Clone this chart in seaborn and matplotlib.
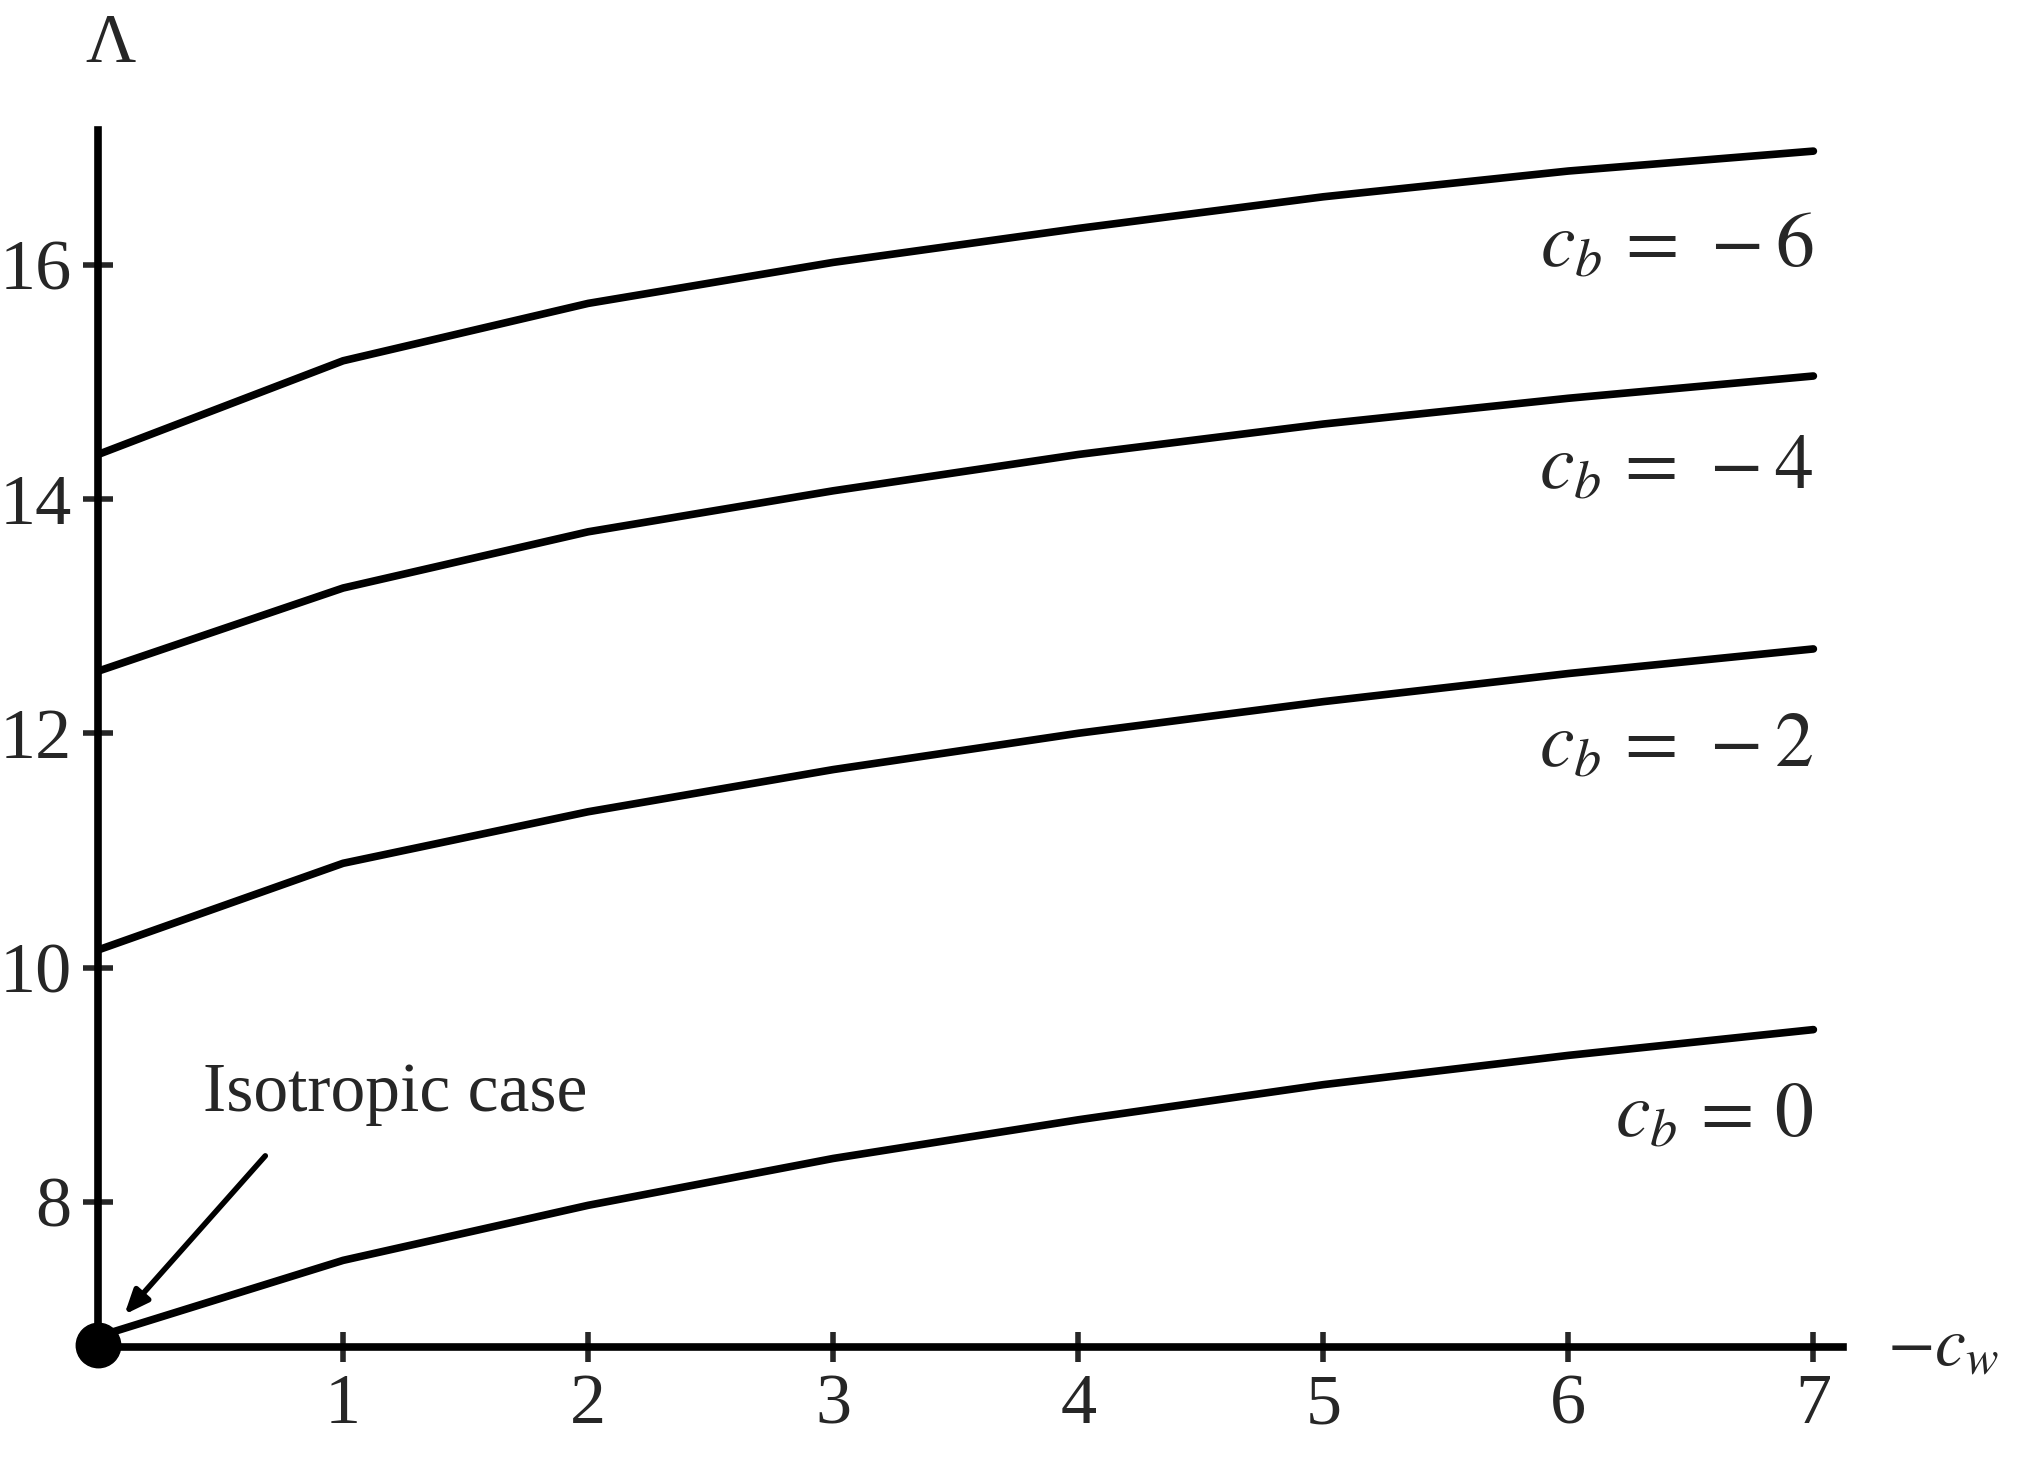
import matplotlib
matplotlib.use("Agg")
import matplotlib.pyplot as plt
import seaborn as sns
import pandas as pd
from matplotlib.ticker import MultipleLocator

sns.set_theme(style="white")
plt.rcParams['font.family'] = ['Liberation Serif', 'DejaVu Serif']
plt.rcParams['mathtext.fontset'] = 'stix'

cw = [0, 1, 2, 3, 4, 5, 6, 7]
lam_cb0 = [6.85, 7.50, 7.97, 8.37, 8.70, 9.00, 9.25, 9.47]
lam_cbm2 = [10.15, 10.89, 11.33, 11.69, 12.00, 12.27, 12.51, 12.72]
lam_cbm4 = [12.53, 13.24, 13.72, 14.07, 14.38, 14.64, 14.86, 15.05]
lam_cbm6 = [14.38, 15.18, 15.67, 16.02, 16.31, 16.58, 16.80, 16.97]
series = {"0": lam_cb0, "-2": lam_cbm2, "-4": lam_cbm4, "-6": lam_cbm6}
label_y = {"0": 8.72, "-2": 11.88, "-4": 14.25, "-6": 16.15}

rows = []
for k, v in series.items():
    for x, y in zip(cw, v):
        rows.append({"cw": x, "lam": y, "cb": k})
df = pd.DataFrame(rows)

fig = plt.figure(figsize=(20.43, 14.61), dpi=100)
ax = fig.add_axes([0.048, 0.078, 0.854, 0.833])
sns.lineplot(data=df, x="cw", y="lam", units="cb", estimator=None, color="black",
             lw=5.5, ax=ax, legend=False)
ax.set_xlim(0, 7.12)
ax.set_ylim(6.76, 17.15)
for s in ["top", "right"]:
    ax.spines[s].set_visible(False)
for s in ["left", "bottom"]:
    ax.spines[s].set_linewidth(5.5)
    ax.spines[s].set_color("black")
ax.xaxis.set_major_locator(MultipleLocator(1))
ax.xaxis.set_minor_locator(MultipleLocator(0.2))
ax.yaxis.set_major_locator(MultipleLocator(2))
ax.yaxis.set_minor_locator(MultipleLocator(0.4))
ax.set_xticks([1, 2, 3, 4, 5, 6, 7])
ax.set_yticks([8, 10, 12, 14, 16])
ax.tick_params(which="major", direction="inout", length=22, width=4, labelsize=52, pad=8)
ax.tick_params(which="minor", direction="inout", length=12, width=3)
ax.tick_params(axis="x", bottom=True)
ax.tick_params(axis="y", left=True)
ax.set_xlabel("")
ax.set_ylabel("")
ax.grid(False)

for k, y in label_y.items():
    ax.text(7, y, r"$c_b\,=\,%s$" % k.replace("-", "−"), ha="right", va="center", fontsize=56)

ax.text(-0.05, 17.6, "Λ", fontsize=50, ha="left", va="bottom", clip_on=False)
ax.text(7.3, 6.76, r"$-c_w$", fontsize=50, ha="left", va="center", clip_on=False)
ax.text(0.43, 8.92, "Isotropic case", fontsize=50, ha="left", va="center")
ax.annotate("", xy=(0.1, 7.02), xytext=(0.69, 8.41),
            arrowprops=dict(arrowstyle="-|>,head_length=1.2,head_width=0.5", color="black", lw=4))
ax.plot([0], [6.78], "o", color="black", markersize=32, clip_on=False, zorder=5)

fig.savefig("out.png", dpi=100)
